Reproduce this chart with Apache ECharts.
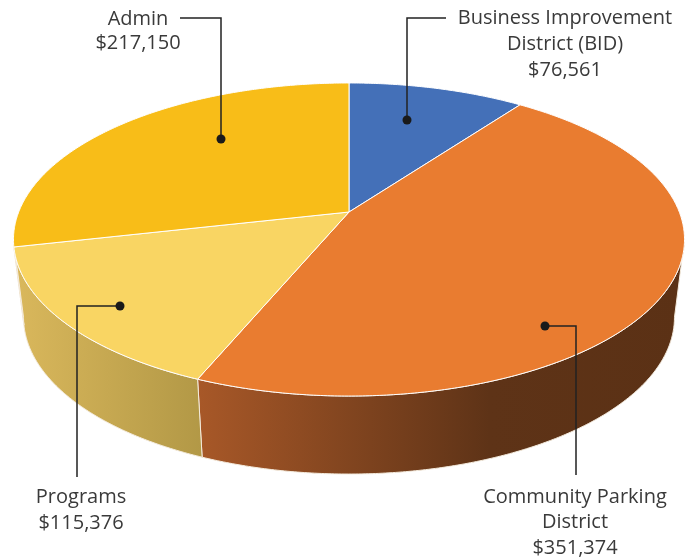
<!DOCTYPE html>
<html><head><meta charset="utf-8">
<script src="https://cdn.jsdelivr.net/npm/echarts@6/dist/echarts.min.js"></script>
<style>html,body{margin:0;padding:0;background:#fff}#c{width:698px;height:558px}</style>
</head><body><div id="c"></div>
<script>
// ---- data ----
const categories = ['Business Improvement District (BID)', 'Community Parking District', 'Programs', 'Admin'];
const labelLines = [['Business Improvement', 'District (BID)'], ['Community Parking', 'District'], ['Programs'], ['Admin']];
const values = [76561, 351374, 115376, 217150];

// ---- styles ----
const topColors = ['#4470B8', '#E97C30', '#F9D563', '#F8BD18'];
const sideColors = [
  [[0, '#34578F'], [1, '#2A4675']],
  [[0, '#A85828'], [0.6, '#5E3317'], [1, '#5B3115']],
  [[0, '#DAB85C'], [1, '#B29846']],
  [[0, '#DCB04A'], [1, '#D2A53A']]
];

// ---- layout (projection of a tilted disc, with perspective) ----
const G = { cx: 349, cy: 212, A: 330.3, B: 151.7, c: 0.1757, T: 78, bottomScale: 0.97 };
// leader: first point = dot inside the slice
const labelLayout = [
  { x: 565, y: 18, lh: 26, leader: [[407, 120], [407, 18], [446, 18]] },
  { x: 575, y: 497, lh: 25.5, leader: [[545, 326], [576, 326], [576, 475]] },
  { x: 81, y: 497, lh: 26, leader: [[120, 306], [77, 306], [77, 477]] },
  { x: 138, y: 19, lh: 24.5, leader: [[221, 139], [221, 18], [180, 18]] }
];

const total = values.reduce((a, b) => a + b, 0);
const starts = [];
{ let acc = 0; values.forEach(v => { starts.push(acc / total * Math.PI * 2); acc += v; }); }

function proj(phi, r, bottom) {
  const u = r * Math.sin(phi), v = r * Math.cos(phi);
  const w = 1 + G.c * v;
  let x = G.A * u / w, y = -G.B * v / w;
  if (bottom) { x *= G.bottomScale; y += G.T; }
  return [G.cx + x, G.cy + y];
}
function silhouette() {
  let best = 0, bestPhi = 0;
  for (let p = 0; p <= Math.PI; p += 0.0005) { const x = proj(p, 1)[0]; if (x > best) { best = x; bestPhi = p; } }
  return [bestPhi, Math.PI * 2 - bestPhi];
}
const [silR, silL] = silhouette();

function arcPts(a, b, bottom) {
  const pts = [];
  const n = Math.max(2, Math.ceil((b - a) / (Math.PI / 360)));
  for (let i = 0; i <= n; i++) pts.push(proj(a + (b - a) * i / n, 1, bottom));
  return pts;
}

function topRender(params, api) {
  const i = params.dataIndex;
  const a = starts[i], b = a + api.value(0) / total * Math.PI * 2;
  const pts = [proj(0, 0)].concat(arcPts(a, b, false));
  return { type: 'polygon', shape: { points: pts },
    style: { fill: topColors[i], stroke: '#FFFFFF', lineWidth: 1, lineJoin: 'round' } };
}
function sideRender(params, api) {
  const i = params.dataIndex;
  const a0 = starts[i], b0 = a0 + api.value(0) / total * Math.PI * 2;
  const a = Math.max(a0, silR), b = Math.min(b0, silL);
  if (b <= a) return null;
  const topA = arcPts(a, b, false);
  const botA = arcPts(a, b, true).reverse();
  return { type: 'polygon', shape: { points: topA.concat(botA) },
    style: {
      fill: { type: 'linear', x: 0, y: 0, x2: 1, y2: 0,
        colorStops: sideColors[i].map(s => ({ offset: s[0], color: s[1] })) },
      stroke: '#F4EBDD', lineWidth: 1
    } };
}

const graphics = [];
values.forEach((v, i) => {
  const L = labelLayout[i];
  const lines = labelLines[i].concat(['$' + v.toLocaleString('en-US')]);
  lines.forEach((t, k) => {
    graphics.push({ type: 'text', z: 100, style: { text: t, x: L.x, y: L.y + k * L.lh,
      textAlign: 'center', textVerticalAlign: 'middle',
      font: '400 20px "Open Sans", Lato, sans-serif', fill: '#3A3A3A' } });
  });
  graphics.push({ type: 'polyline', z: 100, shape: { points: L.leader },
    style: { stroke: '#222222', lineWidth: 1.5, fill: null } });
  graphics.push({ type: 'circle', z: 101, shape: { cx: L.leader[0][0], cy: L.leader[0][1], r: 4.5 },
    style: { fill: '#1A1A1A' } });
});

const chart = echarts.init(document.getElementById('c'), null, { renderer: 'canvas' });
chart.setOption({
  animation: false,
  backgroundColor: '#FFFFFF',
  series: [
    { type: 'custom', name: 'side', coordinateSystem: 'none', silent: true, z: 1,
      data: values.map((v, i) => ({ name: categories[i], value: [v] })), renderItem: sideRender },
    { type: 'custom', name: 'top', coordinateSystem: 'none', z: 2,
      data: values.map((v, i) => ({ name: categories[i], value: [v] })), renderItem: topRender }
  ],
  graphic: graphics
});
</script></body></html>
